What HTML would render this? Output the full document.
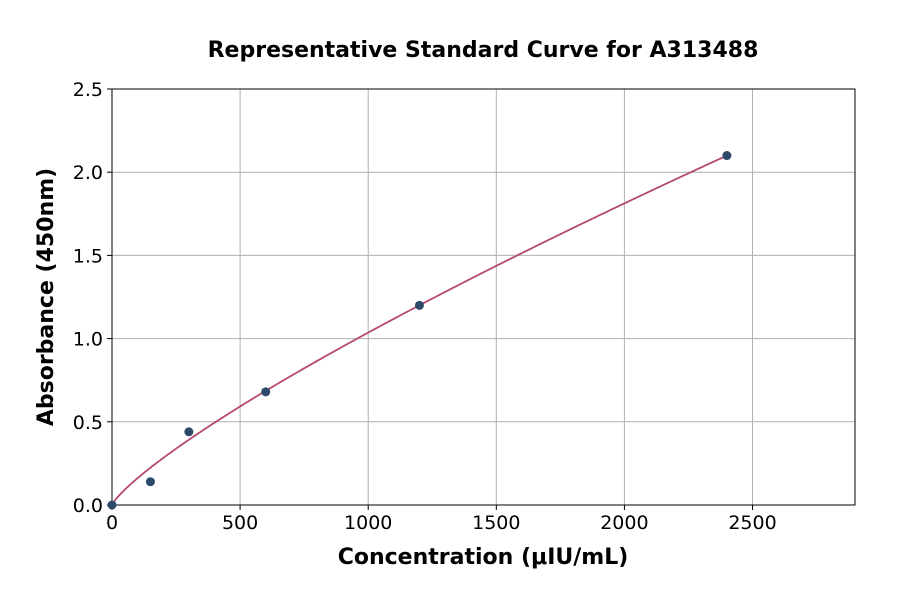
<!DOCTYPE html>
<html><head><meta charset="utf-8"><style>
body{margin:0;background:#fff;font-family:"DejaVu Sans","Liberation Sans",sans-serif}
</style></head><body>
<svg id="chart" width="900" height="594" xmlns="http://www.w3.org/2000/svg">
<text x="483" y="57" text-anchor="middle" font-size="22" font-weight="bold" font-family="DejaVu Sans, sans-serif">Representative Standard Curve for A313488</text>
<g id="grid"></g><g id="ticks"></g>
<rect x="112" y="89" width="743" height="416" fill="none" stroke="#000" stroke-width="1"/>
<g id="marks"></g>
<text x="483" y="564" text-anchor="middle" font-size="22" font-weight="bold" font-family="DejaVu Sans, sans-serif">Concentration (μIU/mL)</text>
<text transform="translate(53,297) rotate(-90)" text-anchor="middle" font-size="22" font-weight="bold" font-family="DejaVu Sans, sans-serif">Absorbance (450nm)</text>
</svg>
<script>
const xTicks=[0,500,1000,1500,2000,2500];
const yTicks=[0.0,0.5,1.0,1.5,2.0,2.5];
const concentrations=[0,150,300,600,1200,2400];
const absorbances=[0.0,0.14,0.44,0.68,1.2,2.1];
const fitA=2.1/Math.pow(2400,0.807), fitB=0.807;
const X=v=>112+v*(743/2900), Y=v=>505-v*(416/2.5);
const NS="http://www.w3.org/2000/svg";
function mk(t,a,p){const e=document.createElementNS(NS,t);for(const k in a)e.setAttribute(k,a[k]);p.appendChild(e);return e;}
const grid=document.getElementById('grid'),ticks=document.getElementById('ticks'),marks=document.getElementById('marks');
xTicks.forEach(v=>{
 const g=mk('line',{x1:X(v),x2:X(v),y1:89,y2:505,stroke:'#b0b0b0','stroke-width':1},grid);
 
 
 mk('line',{x1:X(v),x2:X(v),y1:505,y2:510,stroke:'#000'},ticks);
 const t=mk('text',{x:X(v),y:529,'text-anchor':'middle','font-size':19},ticks);t.textContent=v;
 
 
});
yTicks.forEach(v=>{
 const g=mk('line',{x1:112,x2:855,y1:Y(v),y2:Y(v),stroke:'#b0b0b0','stroke-width':1},grid);
 
 
 mk('line',{x1:107,x2:112,y1:Y(v),y2:Y(v),stroke:'#000'},ticks);
 const t=mk('text',{x:103,y:Y(v)+7,'text-anchor':'end','font-size':19},ticks);t.textContent=v.toFixed(1);
 
 
});
let d='';
for(let i=0;i<=200;i++){const c=2400*i/200;d+=(i?'L':'M')+X(c).toFixed(2)+','+Y(fitA*Math.pow(c,fitB)).toFixed(2);}
const p=mk('path',{d:d,fill:'none',stroke:'#b5496e','stroke-width':1.8},marks);


concentrations.forEach((c,i)=>{
 const e=mk('circle',{cx:X(c),cy:Y(absorbances[i]),r:4.5,fill:'#2e4a6b'},marks);
 
 
});
</script>
</body></html>
